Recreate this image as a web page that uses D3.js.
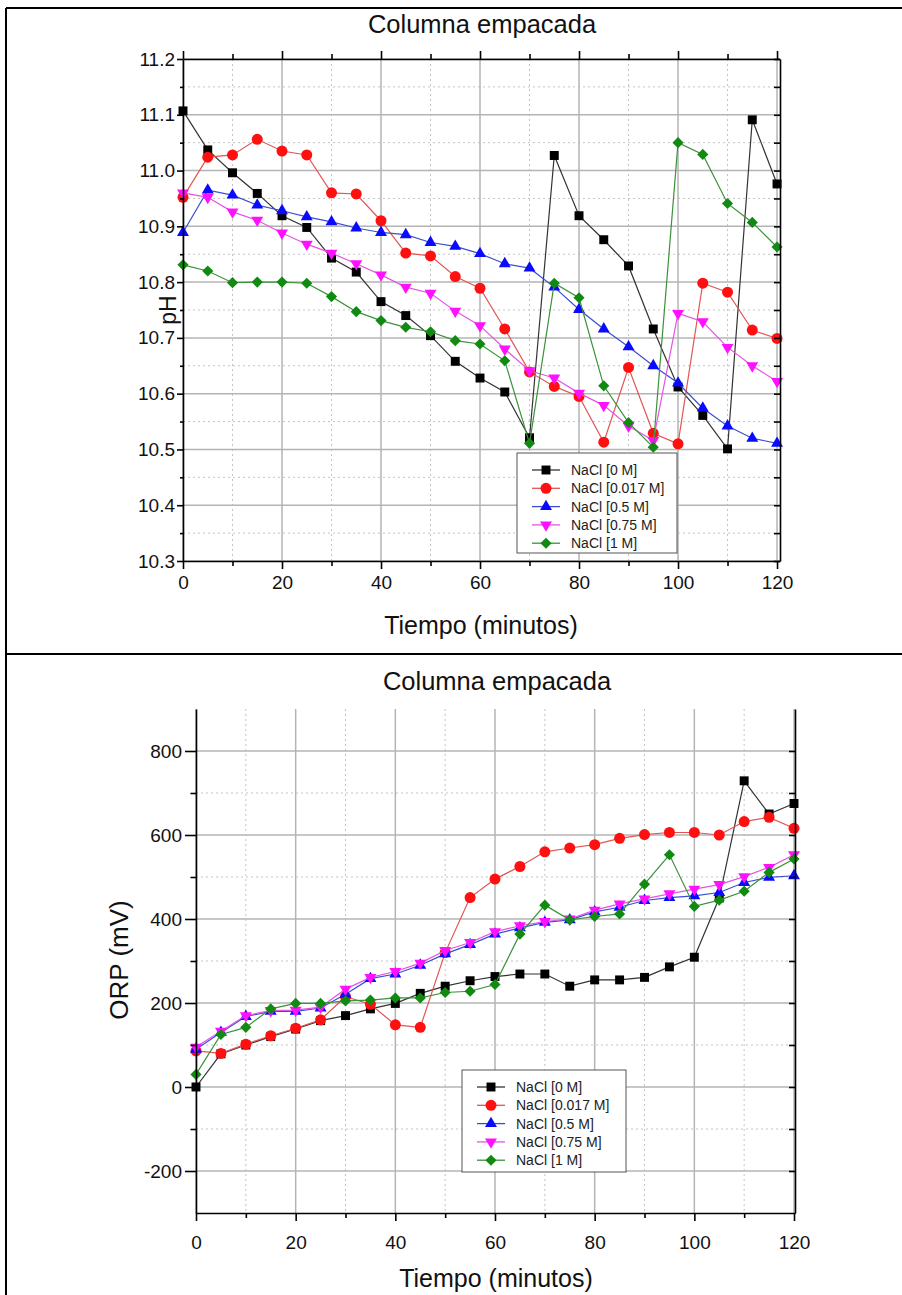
<!DOCTYPE html>
<html>
<head>
<meta charset="utf-8">
<script src="https://cdn.jsdelivr.net/npm/d3@7"></script>
<style>
  body { margin: 0; background: #fff; }
  text { font-family: "Liberation Sans", Arial, sans-serif; }
</style>
</head>
<body>
<div id="viz"></div>
<script>
"use strict";

// time axis (minutes)
const times = [0, 5, 10, 15, 20, 25, 30, 35, 40, 45, 50, 55, 60, 65, 70, 75, 80, 85, 90, 95, 100, 105, 110, 115, 120];
const seriesNames = ["NaCl [0 M]", "NaCl [0.017 M]", "NaCl [0.5 M]", "NaCl [0.75 M]", "NaCl [1 M]"];

// pH, top chart
const ph0M   = [11.107, 11.037, 10.996, 10.959, 10.919, 10.898, 10.843, 10.818, 10.765, 10.740, 10.704, 10.658, 10.628, 10.603, 10.521, 11.027, 10.919, 10.876, 10.829, 10.716, 10.612, 10.561, 10.501, 11.091, 10.976];
const ph017M = [10.952, 11.024, 11.028, 11.056, 11.035, 11.028, 10.960, 10.958, 10.910, 10.852, 10.847, 10.810, 10.789, 10.716, 10.639, 10.613, 10.595, 10.513, 10.647, 10.529, 10.510, 10.798, 10.782, 10.714, 10.699];
const ph05M  = [10.889, 10.965, 10.956, 10.938, 10.928, 10.917, 10.908, 10.897, 10.889, 10.885, 10.871, 10.864, 10.851, 10.833, 10.825, 10.791, 10.751, 10.716, 10.684, 10.650, 10.619, 10.574, 10.542, 10.520, 10.511];
const ph075M = [10.960, 10.952, 10.926, 10.911, 10.888, 10.868, 10.852, 10.833, 10.813, 10.791, 10.780, 10.748, 10.722, 10.680, 10.641, 10.628, 10.601, 10.579, 10.542, 10.516, 10.744, 10.729, 10.683, 10.650, 10.622];
const ph1M   = [10.831, 10.820, 10.799, 10.800, 10.800, 10.798, 10.774, 10.747, 10.731, 10.719, 10.711, 10.695, 10.689, 10.659, 10.511, 10.798, 10.772, 10.614, 10.548, 10.504, 11.050, 11.029, 10.941, 10.907, 10.863];

// ORP (mV), bottom chart
const orp0M   = [0, 79, 100, 120, 138, 158, 170, 186, 199, 223, 240, 253, 263, 269, 269, 240, 255, 255, 261, 286, 309, 450, 729, 650, 675];
const orp017M = [86, 80, 102, 122, 140, 160, 215, 197, 148, 142, 320, 451, 495, 525, 560, 569, 577, 592, 601, 606, 606, 600, 632, 642, 616];
const orp05M  = [90, 130, 168, 180, 180, 188, 221, 258, 269, 290, 317, 339, 364, 379, 392, 398, 417, 428, 444, 451, 455, 463, 487, 499, 503];
const orp075M = [95, 133, 170, 182, 183, 190, 233, 261, 275, 295, 325, 344, 370, 384, 394, 400, 421, 436, 448, 460, 471, 482, 501, 523, 553];
const orp1M   = [30, 125, 142, 186, 199, 199, 205, 207, 212, 212, 225, 228, 244, 364, 433, 398, 406, 412, 483, 553, 430, 445, 466, 511, 543];

// tick labels
const xTicks = [0, 20, 40, 60, 80, 100, 120];
const xMinorTicks = [10, 30, 50, 70, 90, 110];
const phTicks = [10.3, 10.4, 10.5, 10.6, 10.7, 10.8, 10.9, 11.0, 11.1, 11.2];
const phMinorTicks = [10.35, 10.45, 10.55, 10.65, 10.75, 10.85, 10.95, 11.05, 11.15];
const orpTicks = [-200, 0, 200, 400, 600, 800];
const orpMinorTicks = [-100, 100, 300, 500, 700];

const styles = [
  { line: "#333333", fill: "#000000", shape: "square" },
  { line: "#e05555", fill: "#ff1010", shape: "circle" },
  { line: "#3a4fd0", fill: "#0a0aff", shape: "triangle" },
  { line: "#e455e4", fill: "#ff10ff", shape: "triangleDown" },
  { line: "#3a923a", fill: "#108a10", shape: "diamond" }
];

const W = 902, H = 1295;
const svg = d3.select("#viz").append("svg")
  .attr("width", W).attr("height", H);
svg.append("rect").attr("width", W).attr("height", H).attr("fill", "#fff");

// table borders
svg.append("line").attr("x1", 6).attr("x2", 6).attr("y1", 8).attr("y2", H)
  .attr("stroke", "#000").attr("stroke-width", 2);
[8, 654].forEach(yy => {
  svg.append("line").attr("x1", 6).attr("x2", W).attr("y1", yy).attr("y2", yy)
    .attr("stroke", "#000").attr("stroke-width", 2);
});

function symbolPath(shape) {
  if (shape === "square") return d3.symbol(d3.symbolSquare, 80)();
  if (shape === "circle") return d3.symbol(d3.symbolCircle, 95)();
  if (shape === "triangle") return d3.symbol(d3.symbolTriangle, 62)();
  if (shape === "triangleDown") return d3.symbol(d3.symbolTriangle, 62)();
  return d3.symbol(d3.symbolSquare, 62)();
}
function symbolRot(shape) {
  if (shape === "triangleDown") return " rotate(180)";
  if (shape === "diamond") return " rotate(45)";
  return "";
}

function drawChart(cfg) {
  const g = svg.append("g");
  const x = d3.scaleLinear().domain(cfg.xDomain).range(cfg.xRange);
  const y = d3.scaleLinear().domain(cfg.yDomain).range(cfg.yRange);
  const [yb, yt] = cfg.yRange;
  const [xl, xr] = cfg.xRange;

  // grid
  g.selectAll(".vminor").data(xMinorTicks).enter().append("line")
    .attr("x1", d => x(d)).attr("x2", d => x(d)).attr("y1", yt).attr("y2", yb)
    .attr("stroke", "#c4c4c4").attr("stroke-width", 1).attr("stroke-dasharray", "2,3");
  g.selectAll(".hminor").data(cfg.yMinor).enter().append("line")
    .attr("x1", xl).attr("x2", xr).attr("y1", d => y(d)).attr("y2", d => y(d))
    .attr("stroke", "#c4c4c4").attr("stroke-width", 1).attr("stroke-dasharray", "2,3");
  g.selectAll(".vmajor").data(xTicks).enter().append("line")
    .attr("x1", d => x(d)).attr("x2", d => x(d)).attr("y1", yt).attr("y2", yb)
    .attr("stroke", "#b4b4b4").attr("stroke-width", 1.5);
  g.selectAll(".hmajor").data(cfg.yTicks).enter().append("line")
    .attr("x1", xl).attr("x2", xr).attr("y1", d => y(d)).attr("y2", d => y(d))
    .attr("stroke", "#b4b4b4").attr("stroke-width", 1.5);

  // series
  const line = d3.line().x((d, i) => x(times[i])).y(d => y(d));
  cfg.series.forEach((vals, k) => {
    const st = styles[k];
    g.append("path").datum(vals).attr("d", line)
      .attr("fill", "none").attr("stroke", st.line).attr("stroke-width", 1.2);
    g.selectAll(".m" + k).data(vals).enter().append("path")
      .attr("d", symbolPath(st.shape))
      .attr("transform", (d, i) => "translate(" + x(times[i]) + "," + y(d) + ")" + symbolRot(st.shape))
      .attr("fill", st.fill);
  });

  // axes
  function styleAxis(sel) {
    sel.selectAll("path, line").attr("stroke", "#000").attr("stroke-width", 1.6);
    sel.selectAll("text").attr("font-size", 19).attr("font-family", "Liberation Sans, Arial, sans-serif").attr("fill", "#111");
  }
  g.append("g").attr("transform", "translate(0," + yb + ")")
    .call(d3.axisBottom(x).tickValues(xTicks).tickSizeInner(8).tickSizeOuter(0).tickPadding(cfg.xPad).tickFormat(d => String(d)))
    .call(styleAxis);
  g.append("g").attr("transform", "translate(0," + yb + ")")
    .call(d3.axisBottom(x).tickValues(xMinorTicks).tickSize(5).tickFormat(""))
    .call(s => s.select(".domain").remove()).call(styleAxis);
  g.append("g").attr("transform", "translate(" + xl + ",0)")
    .call(d3.axisLeft(y).tickValues(cfg.yTicks).tickSizeInner(cfg.yTick).tickSizeOuter(0).tickPadding(cfg.yPad).tickFormat(cfg.yFormat))
    .call(styleAxis);
  g.append("g").attr("transform", "translate(" + xl + ",0)")
    .call(d3.axisLeft(y).tickValues(cfg.yMinor).tickSize(cfg.yTick / 2).tickFormat(""))
    .call(s => s.select(".domain").remove()).call(styleAxis);
  // right axis, ticks inward
  g.append("g").attr("transform", "translate(" + xr + ",0)")
    .call(d3.axisLeft(y).tickValues(cfg.yTicks.concat(cfg.yMinor)).tickSize(6).tickSizeOuter(0).tickFormat(""))
    .call(styleAxis);
  if (cfg.topAxis) {
    g.append("g").attr("transform", "translate(0," + yt + ")")
      .call(d3.axisTop(x).tickValues(xTicks).tickSizeInner(8).tickSizeOuter(0).tickFormat(""))
      .call(styleAxis);
    g.append("g").attr("transform", "translate(0," + yt + ")")
      .call(d3.axisTop(x).tickValues(xMinorTicks).tickSize(5).tickFormat(""))
      .call(s => s.select(".domain").remove()).call(styleAxis);
  }

  // titles
  g.append("text").attr("x", cfg.title[0]).attr("y", cfg.title[1])
    .attr("text-anchor", "middle").attr("font-size", 25.5).attr("fill", "#111").text("Columna empacada");
  g.append("text").attr("x", cfg.xLabel[0]).attr("y", cfg.xLabel[1])
    .attr("text-anchor", "middle").attr("font-size", 25).attr("fill", "#111").text("Tiempo (minutos)");
  g.append("text").attr("transform", "translate(" + cfg.yLabel[0] + "," + cfg.yLabel[1] + ") rotate(-90)")
    .attr("text-anchor", "middle").attr("font-size", cfg.yLabelSize).attr("fill", "#111").text(cfg.yLabelText);

  // legend
  const [lx, ly, lw, lh] = cfg.legend;
  const lg = g.append("g").attr("transform", "translate(" + lx + "," + ly + ")");
  lg.append("rect").attr("width", lw).attr("height", lh)
    .attr("fill", "#fff").attr("stroke", "#555").attr("stroke-width", 1);
  seriesNames.forEach((name, k) => {
    const st = styles[k];
    const ry = 17 + k * 18.3;
    lg.append("line").attr("x1", 15).attr("x2", 43).attr("y1", ry).attr("y2", ry)
      .attr("stroke", st.line).attr("stroke-width", 1.3);
    lg.append("path").attr("d", symbolPath(st.shape))
      .attr("transform", "translate(29," + ry + ")" + symbolRot(st.shape))
      .attr("fill", st.fill);
    lg.append("text").attr("x", 54).attr("y", ry + 5)
      .attr("font-size", 14).attr("fill", "#222").text(name);
  });
}

drawChart({
  xDomain: [0, 120.6], xRange: [183, 780],
  yDomain: [10.3, 11.2], yRange: [561, 59],
  yTicks: phTicks, yMinor: phMinorTicks, yFormat: d3.format(".1f"),
  yTick: 6, yPad: 2, xPad: 7,
  series: [ph0M, ph017M, ph05M, ph075M, ph1M],
  topAxis: true,
  title: [482, 33], xLabel: [481, 634], yLabel: [176, 310], yLabelText: "pH", yLabelSize: 23,
  legend: [517, 453, 160, 100]
});

drawChart({
  xDomain: [0, 120.2], xRange: [196, 795],
  yDomain: [-300, 900], yRange: [1213, 709],
  yTicks: orpTicks, yMinor: orpMinorTicks, yFormat: d => String(d),
  yTick: 11, yPad: 3, xPad: 15,
  series: [orp0M, orp017M, orp05M, orp075M, orp1M],
  topAxis: false,
  title: [497, 690], xLabel: [496, 1287], yLabel: [128, 960], yLabelText: "ORP (mV)", yLabelSize: 26,
  legend: [462, 1070, 164, 102]
});
</script>
</body>
</html>
